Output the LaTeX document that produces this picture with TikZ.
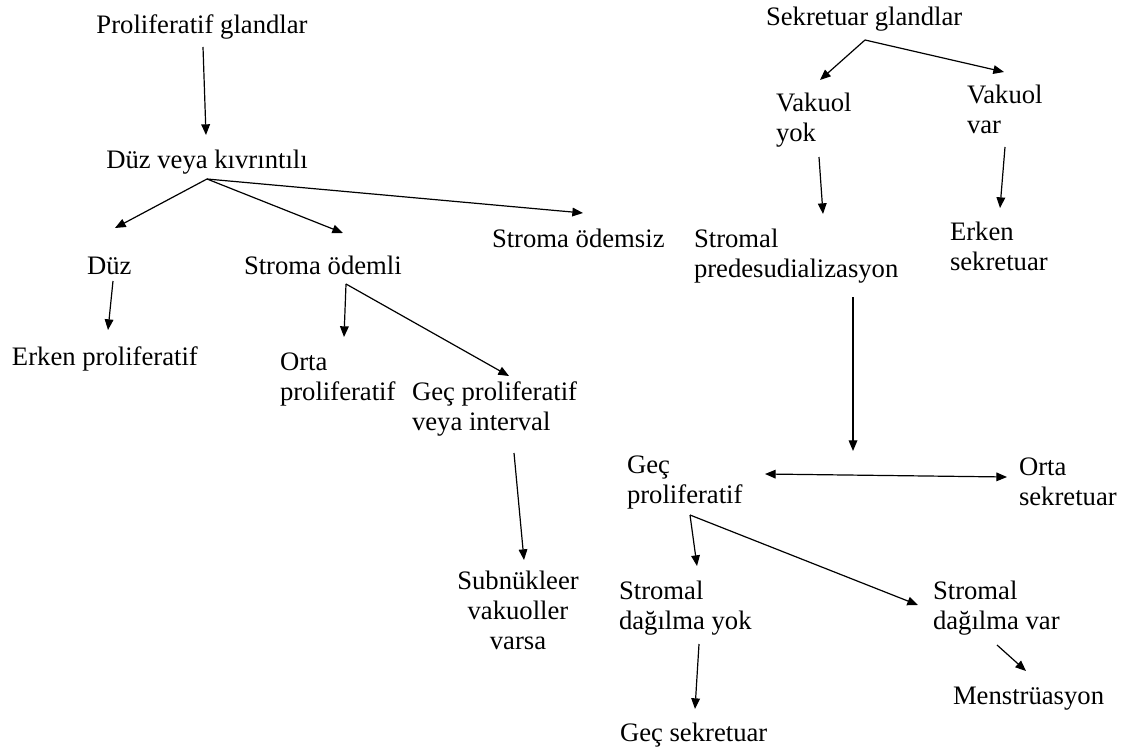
\documentclass[tikz,border=0pt]{standalone}
\usepackage{fontspec}
\setmainfont{Liberation Serif}
\usetikzlibrary{arrows.meta}
\tikzset{
  lbl/.style={inner sep=0pt, outer sep=0pt, font=\fontsize{20}{22.5}\selectfont, anchor=base west, align=left},
  lblc/.style={lbl, anchor=base, align=center},
  arr/.style={line width=0.9pt, -{Triangle[length=8pt,width=6.5pt]}},
  darr/.style={line width=0.9pt, {Triangle[length=8pt,width=6.5pt]}-{Triangle[length=8pt,width=6.5pt]}},
}
\begin{document}
\begin{tikzpicture}[x=0.75pt,y=-0.75pt]
\useasboundingbox (0,0) rectangle (1127,749);
% left tree (multi-line nodes are placed by the baseline of their last line)
\node[lblc] (pg) at (202,34) {Proliferatif glandlar};
\node[lblc] (dvk) at (207,168) {Düz veya kıvrıntılı};
\node[lbl] (duz) at (87,274) {Düz};
\node[lbl] (sod) at (244,274) {Stroma ödemli};
\node[lbl] (sodz) at (492,247) {Stroma ödemsiz};
\node[lbl] (ep) at (12,365) {Erken proliferatif};
\node[lbl] (op) at (280,400) {Orta\\proliferatif};
\node[lbl] (gpi) at (412,430) {Geç proliferatif\\veya interval};
\node[lblc] (snv) at (518,649) {Subnükleer\\vakuoller\\varsa};
% right tree
\node[lbl] (sg) at (766,26) {Sekretuar glandlar};
\node[lbl] (vy) at (776,141) {Vakuol\\yok};
\node[lbl] (vv) at (967,133) {Vakuol\\var};
\node[lbl] (sp) at (694,277) {Stromal\\predesudializasyon};
\node[lbl] (es) at (950,270) {Erken\\sekretuar};
\node[lbl] (gp) at (627,503) {Geç\\proliferatif};
\node[lbl] (os) at (1019,505) {Orta\\sekretuar};
\node[lbl] (sdy) at (619,629) {Stromal\\dağılma yok};
\node[lbl] (sdv) at (933,629) {Stromal\\dağılma var};
\node[lbl] (men) at (953,704) {Menstrüasyon};
\node[lbl] (gs) at (620,741) {Geç sekretuar};
% connector points
\coordinate (pg-o) at (203,47);
\coordinate (dvk-i) at (206,135);
\coordinate (dvk-o) at (207,179);
\coordinate (duz-i) at (115,228);
\coordinate (sod-i) at (343,233);
\coordinate (sodz-i) at (583,213);
\coordinate (duz-o) at (113,281);
\coordinate (ep-i) at (108,330);
\coordinate (sod-o) at (346,284);
\coordinate (op-i) at (344,337);
\coordinate (gpi-i) at (509,376);
\coordinate (gpi-o) at (514,453);
\coordinate (snv-i) at (524,560);
\coordinate (sg-o) at (865,40);
\coordinate (vy-i) at (820,80);
\coordinate (vv-i) at (1004,72);
\coordinate (vy-o) at (819,157);
\coordinate (sp-i) at (823,214);
\coordinate (vv-o) at (1005,147);
\coordinate (es-i) at (1000,208);
\coordinate (sp-o) at (853,297);
\coordinate (gp-i) at (853,451);
\coordinate (gp-r) at (765,474);
\coordinate (os-i) at (1007,477);
\coordinate (gp-o) at (690,515);
\coordinate (sdy-i) at (697,566);
\coordinate (sdv-i) at (918,605);
\coordinate (sdy-o) at (699,644);
\coordinate (gs-i) at (695,709);
\coordinate (sdv-o) at (997,645);
\coordinate (men-i) at (1026,671);
% connectors
\draw[arr] (pg-o) -- (dvk-i);
\draw[arr] (dvk-o) -- (duz-i);
\draw[arr] (dvk-o) -- (sod-i);
\draw[arr] (dvk-o) -- (sodz-i);
\draw[arr] (duz-o) -- (ep-i);
\draw[arr] (sod-o) -- (op-i);
\draw[arr] (sod-o) -- (gpi-i);
\draw[arr] (gpi-o) -- (snv-i);
\draw[arr] (sg-o) -- (vy-i);
\draw[arr] (sg-o) -- (vv-i);
\draw[arr] (vy-o) -- (sp-i);
\draw[arr] (vv-o) -- (es-i);
\draw[arr] (sp-o) -- (gp-i);
\draw[darr] (gp-r) -- (os-i);
\draw[arr] (gp-o) -- (sdy-i);
\draw[arr] (gp-o) -- (sdv-i);
\draw[arr] (sdy-o) -- (gs-i);
\draw[arr] (sdv-o) -- (men-i);
\end{tikzpicture}
\end{document}
